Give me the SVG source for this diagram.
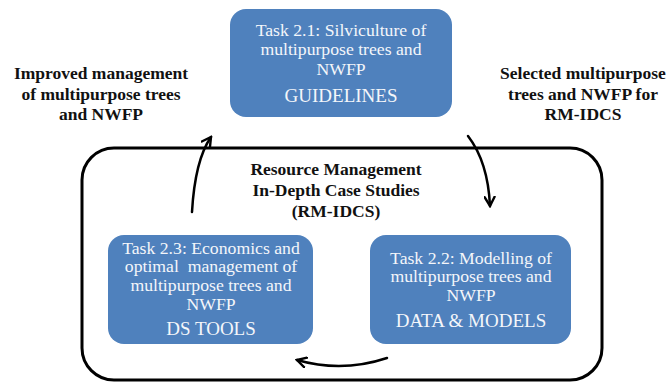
<svg xmlns="http://www.w3.org/2000/svg" width="670" height="382" viewBox="0 0 670 382">
  <defs>
    <marker id="arrowhead" viewBox="0 0 12 12" refX="10" refY="6" markerWidth="12" markerHeight="12" markerUnits="userSpaceOnUse" orient="auto">
      <path d="M1,1 L10,6 L1,11" fill="none" stroke="#000" stroke-width="2.4" stroke-linecap="round" stroke-linejoin="miter"/>
    </marker>
    <style>
      .task { fill: #4f81bd; }
      .tt { font-family: "Liberation Serif", "Times New Roman", serif; font-size: 17.7px; fill: #f4f6fa; text-anchor: middle; }
      .big { font-family: "Liberation Serif", "Times New Roman", serif; font-size: 19px; fill: #f4f6fa; text-anchor: middle; }
      .lbl { font-family: "Liberation Serif", "Times New Roman", serif; font-size: 17.5px; font-weight: bold; fill: #111; text-anchor: middle; }
      .flow { fill: none; stroke: #000; stroke-width: 2.5; stroke-linecap: round; }
    </style>
  </defs>

  <rect width="670" height="382" fill="#fff"/>

  <!-- Case study frame -->
  <g id="rm-idcs">
    <rect x="82" y="148" width="520" height="232" rx="32" ry="32" fill="none" stroke="#000" stroke-width="3"/>
    <text class="lbl" x="336" y="175">Resource Management</text>
    <text class="lbl" x="336" y="196">In-Depth Case Studies</text>
    <text class="lbl" x="336" y="217">(RM-IDCS)</text>
  </g>

  <!-- Task 2.1 -->
  <g id="task21">
    <rect class="task" x="230" y="9" width="222" height="108" rx="16" ry="16"/>
    <text class="tt" x="341" y="35.5">Task 2.1: Silviculture of</text>
    <text class="tt" x="341" y="55">multipurpose trees and</text>
    <text class="tt" x="341" y="75">NWFP</text>
    <text class="big" x="341" y="101.5">GUIDELINES</text>
  </g>

  <!-- Task 2.2 -->
  <g id="task22">
    <rect class="task" x="370" y="235" width="201" height="109" rx="16" ry="16"/>
    <text class="tt" x="471" y="263.5">Task 2.2: Modelling of</text>
    <text class="tt" x="471" y="282">multipurpose trees and</text>
    <text class="tt" x="471" y="300.5">NWFP</text>
    <text class="big" x="471" y="326.5">DATA &amp; MODELS</text>
  </g>

  <!-- Task 2.3 -->
  <g id="task23">
    <rect class="task" x="108" y="235" width="205" height="109" rx="16" ry="16"/>
    <text class="tt" x="211" y="253.5">Task 2.3: Economics and</text>
    <text class="tt" x="211" y="272" xml:space="preserve">optimal  management of</text>
    <text class="tt" x="211" y="291">multipurpose trees and</text>
    <text class="tt" x="211" y="309.5">NWFP</text>
    <text class="big" x="211" y="335">DS TOOLS</text>
  </g>

  <!-- Outside labels -->
  <g id="label-improved">
    <text class="lbl" x="101" y="79">Improved management</text>
    <text class="lbl" x="101" y="99.5">of multipurpose trees</text>
    <text class="lbl" x="101" y="120">and NWFP</text>
  </g>
  <g id="label-selected">
    <text class="lbl" x="583" y="79">Selected multipurpose</text>
    <text class="lbl" x="583" y="99.5">trees and NWFP for</text>
    <text class="lbl" x="583" y="120">RM-IDCS</text>
  </g>

  <!-- Cycle arrows -->
  <g id="connectors">
    <path class="flow" d="M468,136 Q488,162 490,206" marker-end="url(#arrowhead)"/>
    <path class="flow" d="M387,358 Q342,373 297,360" marker-end="url(#arrowhead)"/>
    <path class="flow" d="M192,212 Q195,160 211,137" marker-end="url(#arrowhead)"/>
  </g>
</svg>
